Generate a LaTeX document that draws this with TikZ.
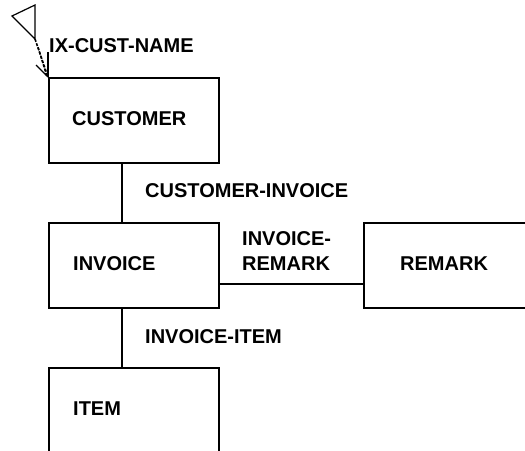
\documentclass[tikz,border=0pt]{standalone}
\usepackage{fontspec}
\setmainfont{Liberation Sans}
\begin{document}
\begin{tikzpicture}[x=1pt,y=-1pt,
  entity/.style={draw,line width=1.6pt,rectangle,minimum width=170pt,minimum height=85pt,inner sep=0pt,anchor=north west},
  lbl/.style={inner sep=0pt,anchor=base west,font=\bfseries\fontsize{20}{23}\selectfont},
  link/.style={line width=1.6pt}]
\useasboundingbox (0,0) rectangle (525,450);
\clip (0,0) rectangle (525,450);

% entity boxes
\node[entity] (cust) at (48,77) {};
\node[entity] (inv)  at (48,222) {};
\node[entity,minimum width=260pt] (rem) at (363,222) {};
\node[entity] (item) at (48,367) {};

% entity names
\node[lbl] (custname) at ([xshift=24pt,yshift=-48pt]cust.north west) {CUSTOMER};
\node[lbl] (invname)  at ([xshift=25pt,yshift=-48pt]inv.north west) {INVOICE};
\node[lbl] (remname)  at ([xshift=37pt,yshift=-48pt]rem.north west) {REMARK};
\node[lbl] (itemname) at ([xshift=25pt,yshift=-48pt]item.north west) {ITEM};

% relationships
\draw[link] ([xshift=-12pt]cust.south) -- ([xshift=-12pt]inv.north);
\draw[link] ([xshift=-12pt]inv.south) -- ([xshift=-12pt]item.north);
\draw[link] ([yshift=-18.5pt]inv.east) -- ([yshift=-18.5pt]rem.west);

\node[lbl] (ci) at (145,197) {CUSTOMER-INVOICE};
\node[lbl] (ir1) at (242,245) {INVOICE-};
\node[lbl] (ir2) at (242,270) {REMARK};
\node[lbl] (ii) at (145,343) {INVOICE-ITEM};

% index marker on the customer entity
\node[lbl] (ix) at (49,52) {IX-CUST-NAME};
\coordinate (corner) at (cust.north west);
\draw[line width=1.2pt,line join=miter] (12,16) -- (35,5) -- (35,39) -- cycle;
\draw[line width=1.6pt,dash pattern=on 3pt off 1.5pt] (35,39) -- (corner);
\draw[line width=1.4pt,dash pattern=on 3pt off 1.5pt] (38,47) -- ([xshift=-1pt]corner);
\draw[line width=1.4pt] (36,65) -- (corner);
\draw[line width=1.6pt] (48,52) -- (corner);
\end{tikzpicture}
\end{document}
